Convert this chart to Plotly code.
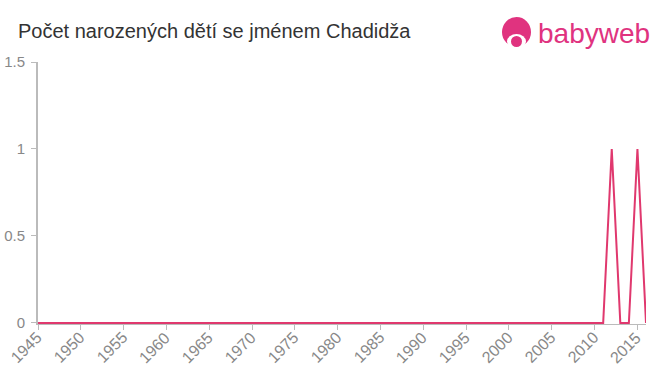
import plotly.graph_objects as go

years = list(range(1945, 2017))
counts = [0] * len(years)
births = {2012: 1, 2015: 1}
for y, v in births.items():
    counts[years.index(y)] = v

x_ticks = list(range(1945, 2016, 5))
y_ticks = [0, 0.5, 1, 1.5]
y_tick_labels = ["0", "0.5", "1", "1.5"]

title_text = "Počet narozených dětí se jménem Chadidža"

W, H = 660, 375
L, R, T, B = 38, 14, 62, 51
pw, ph = W - L - R, H - T - B

def px(x):
    return (x - L) / pw

def py(y):
    return (H - B - y) / ph

fig = go.Figure()
fig.add_trace(go.Scatter(x=years, y=counts, mode="lines",
                         line=dict(color="#e0386e", width=2), hoverinfo="x+y"))

axis_common = dict(showgrid=False, zeroline=False, showline=True, linecolor="#bbbbbb",
                   ticks="outside", ticklen=5, tickcolor="#bbbbbb", tickwidth=1,
                   automargin=False, layer="below traces")
tf = dict(family="Liberation Sans, Arial", size=15, color="#888888")

annotations = [
    dict(text=title_text, xref="paper", yref="paper", x=px(16), y=py(31),
         xanchor="left", yanchor="middle", showarrow=False,
         font=dict(family="Liberation Sans, Arial", size=20, color="#333333")),
    dict(text="babyweb", xref="paper", yref="paper", x=px(536), y=py(33),
         xanchor="left", yanchor="middle", showarrow=False,
         font=dict(family="Liberation Sans, Arial", size=28, color="#e0337f")),
]
for t in x_ticks:
    annotations.append(dict(text=str(t), xref="x", yref="paper", x=t, y=py(347),
                            xanchor="center", yanchor="middle", xshift=-12, textangle=-45,
                            showarrow=False, borderpad=0,
                            font=dict(family="Liberation Sans, Arial", size=16, color="#888888")))

fig.update_layout(
    width=W, height=H,
    margin=dict(l=L, r=R, t=T, b=B),
    plot_bgcolor="white", paper_bgcolor="white",
    showlegend=False,
    xaxis=dict(range=[1945, 2016], tickvals=x_ticks, ticktext=[""] * len(x_ticks),
               linewidth=1, **axis_common),
    yaxis=dict(range=[-0.006, 1.5], tickvals=y_ticks, ticktext=y_tick_labels,
               linewidth=2, tickfont=tf, ticklabelstandoff=3, **axis_common),
    annotations=annotations,
    shapes=[
        dict(type="circle", xref="paper", yref="paper", x0=px(502), x1=px(531),
             y0=py(47), y1=py(17), fillcolor="#e0337f", line=dict(width=0)),
        dict(type="circle", xref="paper", yref="paper", x0=px(507), x1=px(526),
             y0=py(49), y1=py(34), fillcolor="white", line=dict(width=0)),
        dict(type="circle", xref="paper", yref="paper", x0=px(511), x1=px(522),
             y0=py(47), y1=py(36), fillcolor="#e0337f", line=dict(width=0)),
    ],
)

fig.write_html("out.html")
